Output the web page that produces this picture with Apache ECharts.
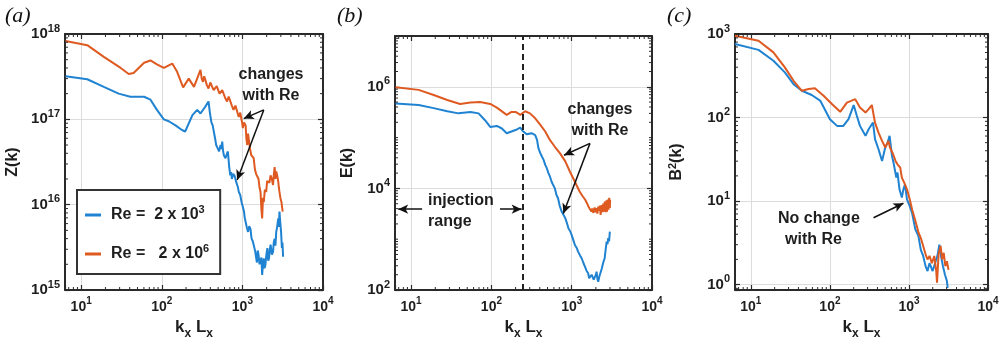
<!DOCTYPE html>
<html><head><meta charset="utf-8">
<script src="https://cdn.jsdelivr.net/npm/echarts@6/dist/echarts.min.js"></script>
<style>html,body{margin:0;padding:0;background:#fff}#c{width:1007px;height:348px}</style>
</head><body><div id="c"></div>
<script>
// ---------- Panel (a): Z(k) ----------
const aLoX = [6.4, 11.9, 19.1, 29.2, 40.7, 60.3, 72.4, 87.1, 106, 122, 148, 178, 195, 240, 275, 302, 347, 380, 395, 412, 428, 442, 458, 473, 493, 513, 537, 550, 562, 575, 589, 603, 617, 640, 661, 685, 708, 725, 741, 770, 804, 830, 861, 880, 902, 940, 977, 1010, 1047, 1070, 1096, 1135, 1175, 1215, 1259, 1300, 1349, 1400, 1445, 1480, 1514, 1550, 1585, 1630, 1679, 1720, 1758, 1800, 1841, 1880, 1928, 1985, 2042, 2090, 2138, 2190, 2239, 2320, 2399, 2450, 2512, 2570, 2630, 2700, 2786, 2830, 2884, 2950, 3020, 3090, 3140, 3199];
const aLoY = [3.2e17, 2.95e17, 2.4e17, 2.0e17, 1.84e17, 1.84e17, 1.7e17, 1.29e17, 1.0e17, 9.5e16, 8.5e16, 7.5e16, 7.2e16, 1.12e17, 1.29e17, 1.17e17, 1.41e17, 1.62e17, 1.2e17, 9.3e16, 8.5e16, 7.2e16, 6.0e16, 5.0e16, 4.6e16, 4.2e16, 5.0e16, 4.5e16, 5.5e16, 4.3e16, 3.8e16, 4.0e16, 3.5e16, 3.9e16, 4.2e16, 2.8e16, 2.2e16, 2.4e16, 2.0e16, 2.3e16, 2.15e16, 1.9e16, 2.0e16, 1.6e16, 1.41e16, 1.3e16, 1.07e16, 9.5e15, 8.3e15, 7.0e15, 6.3e15, 5.4e15, 4.8e15, 5.6e15, 5.2e15, 4.0e15, 3.7e15, 3.2e15, 2.8e15, 2.4e15, 2.1e15, 2.9e15, 2.6e15, 2.0e15, 1.95e15, 2.4e15, 1.5e15, 2.0e15, 2.35e15, 1.8e15, 1.95e15, 2.6e15, 3.1e15, 2.2e15, 2.35e15, 3.0e15, 3.4e15, 2.6e15, 2.8e15, 3.6e15, 4.0e15, 3.3e15, 4.8e15, 5.5e15, 6.9e15, 5.5e15, 8.3e15, 6.2e15, 4.8e15, 3.1e15, 3.6e15, 2.45e15];
const aHiX = [6.4, 11.9, 19.1, 30.9, 38.9, 44.7, 60.3, 72.4, 87.1, 106, 135, 155, 184, 216, 251, 302, 313, 324, 336, 347, 363, 380, 400, 422, 440, 457, 480, 501, 520, 537, 562, 589, 617, 646, 676, 708, 740, 776, 820, 861, 880, 902, 940, 977, 995, 1012, 1050, 1096, 1120, 1148, 1175, 1202, 1245, 1288, 1330, 1380, 1430, 1479, 1530, 1585, 1630, 1679, 1720, 1758, 1800, 1841, 1900, 1972, 2030, 2089, 2160, 2239, 2320, 2399, 2450, 2512, 2570, 2630, 2700, 2786, 2830, 2884, 2960, 3055, 3100, 3162];
const aHiY = [8.3e17, 7.4e17, 5.4e17, 4.0e17, 3.4e17, 3.5e17, 4.6e17, 4.9e17, 4.4e17, 4.0e17, 4.5e17, 3.6e17, 2.37e17, 3.0e17, 2.4e17, 3.8e17, 3.0e17, 2.75e17, 3.2e17, 2.9e17, 2.5e17, 2.3e17, 2.7e17, 2.6e17, 2.2e17, 2.1e17, 2.45e17, 2.35e17, 2.0e17, 1.93e17, 2.2e17, 2.1e17, 1.75e17, 1.62e17, 1.85e17, 1.78e17, 1.45e17, 1.29e17, 1.45e17, 1.41e17, 1.15e17, 1.07e17, 1.2e17, 1.17e17, 9.0e16, 7.9e16, 9.2e16, 8.5e16, 6.0e16, 5.0e16, 6.8e16, 6.6e16, 4.5e16, 3.8e16, 4.0e16, 3.5e16, 2.6e16, 2.3e16, 2.4e16, 2.0e16, 1.6e16, 1.41e16, 9.0e15, 6.9e15, 1.2e16, 1.07e16, 1.5e16, 1.41e16, 1.9e16, 2.0e16, 1.8e16, 2.2e16, 2.0e16, 1.7e16, 2.2e16, 2.75e16, 2.0e16, 2.45e16, 2.2e16, 1.86e16, 1.6e16, 1.41e16, 1.2e16, 1.07e16, 9.5e15, 8.3e15];

// ---------- Panel (b): E(k) ----------
const bLoX = [6.4, 12.4, 19.1, 28.2, 38.9, 55, 69.2, 83.2, 96.6, 117, 135, 155, 178, 200, 229, 245, 275, 316, 351, 370, 385, 405, 427, 448, 468, 490, 513, 537, 562, 590, 617, 645, 676, 710, 750, 790, 832, 870, 912, 955, 1000, 1050, 1096, 1150, 1202, 1270, 1334, 1400, 1462, 1530, 1603, 1650, 1718, 1770, 1820, 1880, 1950, 2000, 2042, 2090, 2138, 2210, 2291, 2360, 2427, 2500, 2570, 2640, 2723, 2790, 2851, 2920, 2985];
const bLoY = [4.7e5, 4.4e5, 3.8e5, 3.3e5, 3.0e5, 3.2e5, 3.0e5, 2.2e5, 1.62e5, 1.7e5, 1.51e5, 1.22e5, 1.32e5, 1.41e5, 1.57e5, 1.35e5, 1.16e5, 1.22e5, 1.12e5, 9.0e4, 6.2e4, 5.0e4, 4.2e4, 3.6e4, 2.9e4, 2.5e4, 2.0e4, 1.7e4, 1.35e4, 1.15e4, 1.0e4, 7.5e3, 6.4e3, 4.5e3, 3.5e3, 3.2e3, 2.6e3, 2.1e3, 1.62e3, 1.45e3, 1.2e3, 950, 770, 680, 570, 480, 417, 340, 288, 240, 214, 170, 158, 200, 214, 160, 158, 200, 229, 165, 145, 185, 197, 260, 309, 370, 417, 600, 891, 800, 1047, 900, 1413];
const bHiX = [6.4, 12.4, 19.1, 28.2, 40.7, 55, 72.4, 96.6, 117, 155, 178, 200, 229, 263, 302, 351, 407, 468, 537, 617, 716, 832, 955, 1096, 1259, 1370, 1479, 1560, 1640, 1698, 1760, 1800, 1862, 1930, 1995, 2040, 2089, 2140, 2188, 2240, 2291, 2360, 2427, 2470, 2512, 2580, 2661, 2710, 2754, 2820, 2884, 2930, 2985, 3010];
const bHiY = [9.8e5, 8.7e5, 6.9e5, 5.5e5, 4.6e5, 4.9e5, 5.0e5, 4.6e5, 3.9e5, 2.8e5, 3.2e5, 3.2e5, 2.8e5, 3.3e5, 3.0e5, 2.4e5, 1.78e5, 1.32e5, 8.9e4, 6.6e4, 4.9e4, 3.4e4, 2.1e4, 1.35e4, 8.6e3, 7.0e3, 5.9e3, 5.0e3, 4.2e3, 4.4e3, 3.5e3, 4.0e3, 3.3e3, 4.2e3, 3.4e3, 4.1e3, 3.2e3, 4.4e3, 3.6e3, 4.6e3, 3.0e3, 4.7e3, 3.4e3, 5.0e3, 3.5e3, 5.5e3, 3.4e3, 5.8e3, 3.5e3, 6.0e3, 3.8e3, 6.5e3, 4.1e3, 6.0e3];
const bInjection = 245;

// ---------- Panel (c): B^2(k) ----------
const cLoX = [6.3, 12.5, 19.3, 26.9, 34.7, 44.2, 58.9, 75.9, 100, 123, 148, 172, 200, 219, 240, 282, 309, 351, 372, 412, 457, 501, 537, 569, 610, 638, 692, 716, 759, 813, 851, 891, 944, 1023, 1096, 1202, 1318, 1413, 1514, 1622, 1718, 1820, 1995, 2138, 2291, 2427, 2541, 2692, 2851, 3020, 3090];
const cLoY = [759, 646, 479, 347, 251, 209, 186, 158, 95.5, 79.4, 79.4, 95.5, 141, 105, 79.4, 60.3, 72.4, 87.1, 55, 41.7, 30.2, 43.7, 50.1, 60.3, 34.7, 28.8, 19.1, 21.9, 13.8, 11.0, 13.8, 15.8, 10.5, 8.7, 7.2, 4.6, 3.8, 2.6, 2.2, 1.66, 1.45, 1.8, 1.45, 1.8, 2.2, 3.0, 2.2, 1.66, 1.32, 1.1, 0.91];
const cHiX = [6.3, 12.5, 19.3, 26.9, 34.7, 44.2, 53.7, 64.6, 83.2, 106, 135, 164, 209, 240, 282, 309, 339, 372, 412, 457, 501, 550, 575, 631, 676, 716, 776, 813, 871, 944, 1023, 1096, 1175, 1259, 1318, 1413, 1514, 1622, 1718, 1820, 1950, 2089, 2213, 2265, 2371, 2512, 2630, 2754, 2884, 3020, 3162];
const cHiY = [955, 832, 603, 398, 275, 209, 219, 224, 182, 145, 117, 151, 166, 132, 115, 126, 141, 87, 66, 52.5, 43.7, 52.5, 43.7, 36.3, 30.2, 27.5, 25.1, 19.1, 16.6, 13.8, 10.5, 7.9, 6.3, 5.0, 4.2, 3.6, 2.9, 2.3, 2.0, 2.2, 1.8, 2.2, 1.45, 1.05, 2.3, 2.9, 2.0, 2.4, 1.66, 1.9, 1.5];

// ---------- tick label exponents ----------
const xTickExp = [1, 2, 3, 4];
const aYTickExp = [15, 16, 17, 18];
const bYTickExp = [2, 4, 6];
const cYTickExp = [0, 1, 2, 3];

const BLUE = '#1f83d2';
const ORANGE = '#de5a21';
const INK = '#1e1e1e';
const AX = '#2a2a2a';
const FONT = '"Liberation Sans", Arial, sans-serif';

function mkRich(base, sup) {
  return {
    b: {fontSize: base, fontWeight: 'bold', color: INK, lineHeight: 22, fontFamily: FONT},
    s: {fontSize: sup, fontWeight: 'bold', color: INK, lineHeight: 14, verticalAlign: 'top', fontFamily: FONT}
  };
}
function powLabel(exps) {
  return function (v) {
    const l = Math.log10(v), e = Math.round(l);
    if (Math.abs(l - e) > 1e-3 || exps.indexOf(e) < 0) return '';
    return '{b|10}{s|' + e + '}';
  };
}
const lineAx = {show: true, onZero: false, lineStyle: {color: AX, width: 2}};
const tickAx = {show: true, inside: true, length: 5, lineStyle: {color: AX, width: 1.2}};
const splitAx = {show: true, lineStyle: {color: '#dcdcdc', width: 1}};

const grids = [
  {left: 65, top: 34, width: 258, height: 256},
  {left: 395, top: 36, width: 257, height: 254},
  {left: 735, top: 34, width: 253, height: 256}
];
const xRange = [6.3, 1e4];
const yRanges = [[1e15, 1e18, 10], [100, 1e7, 100], [0.86, 1000, 10]];
const yExps = [aYTickExp, bYTickExp, cYTickExp];
const yNames = ['Z(k)', 'E(k)', '{t|B}{s|2}{t|(k)}'];
const yGaps = [44, 39, 48];

const xAxes = [], yAxes = [];
for (let i = 0; i < 3; i++) {
  xAxes.push({
    type: 'log', gridIndex: i, min: xRange[0], max: xRange[1], position: 'bottom',
    axisLine: lineAx, axisTick: tickAx, splitLine: splitAx,
    axisLabel: {show: true, margin: 6, interval: 0, showMinLabel: true, showMaxLabel: true, hideOverlap: false, formatter: powLabel(xTickExp), rich: mkRich(14, 10)},
    name: '{t|k}{u|x}{t| L}{u|x}', nameLocation: 'middle', nameGap: 24,
    nameTextStyle: {rich: {
      t: {fontSize: 17, fontWeight: 'bold', color: INK, lineHeight: 24, fontFamily: FONT},
      u: {fontSize: 12, fontWeight: 'bold', color: INK, lineHeight: 14, verticalAlign: 'bottom', fontFamily: FONT}
    }}
  });
  yAxes.push({
    type: 'log', gridIndex: i, min: yRanges[i][0], max: yRanges[i][1], logBase: yRanges[i][2], position: 'left',
    axisLine: lineAx, axisTick: tickAx, splitLine: splitAx,
    axisLabel: {show: true, margin: 5, interval: 0, showMinLabel: true, showMaxLabel: true, hideOverlap: false, formatter: powLabel(yExps[i]), rich: mkRich(15, 11)},
    name: yNames[i], nameLocation: 'middle', nameGap: yGaps[i], nameRotate: 90,
    nameTextStyle: {fontSize: 16, fontWeight: 'bold', color: INK, fontFamily: FONT, rich: {
      t: {fontSize: 16, fontWeight: 'bold', color: INK, lineHeight: 20, fontFamily: FONT},
      s: {fontSize: 11, fontWeight: 'bold', color: INK, lineHeight: 12, verticalAlign: 'top', fontFamily: FONT}
    }}
  });
}
for (let i = 0; i < 3; i++) {
  xAxes.push({type: 'log', gridIndex: i, min: xRange[0], max: xRange[1], position: 'top',
    axisLine: lineAx, axisTick: tickAx, splitLine: {show: false}, axisLabel: {show: false}});
  yAxes.push({type: 'log', gridIndex: i, min: yRanges[i][0], max: yRanges[i][1], logBase: yRanges[i][2], position: 'right',
    axisLine: lineAx, axisTick: tickAx, splitLine: {show: false}, axisLabel: {show: false}});
}

// minor (log) ticks on the four sides of each box, placed through the axes' own scales
function minorVals(lo, hi) {
  const out = [];
  for (let e = -1; e <= 19; e++) {
    for (let m = 1; m <= 9; m++) {
      const v = m * Math.pow(10, e);
      if (v > lo * 1.0001 && v < hi * 0.9999) out.push(v);
    }
  }
  return out;
}
function minorSeries(i) {
  const xr = xRange, yr = yRanges[i];
  const xv = minorVals(xr[0], xr[1]).filter(v => Math.abs(Math.log10(v) - Math.round(Math.log10(v))) > 1e-6);
  let yv = minorVals(yr[0], yr[1]);
  if (yr[2] === 10) yv = yv.filter(v => Math.abs(Math.log10(v) - Math.round(Math.log10(v))) > 1e-6);
  else yv = yv.filter(v => { const l = Math.log10(v); const r = Math.round(l); return Math.abs(l - r) > 1e-6 || r % 2 !== 0; });
  return {
    type: 'custom', xAxisIndex: i, yAxisIndex: i, silent: true, animation: false, clip: false, z: 5,
    data: [[xr[0], yr[0]]],
    renderItem: function (params, api) {
      const p0 = api.coord([xr[0], yr[0]]), p1 = api.coord([xr[1], yr[1]]);
      const L = 3, ch = [];
      const st = {stroke: AX, lineWidth: 1};
      xv.forEach(v => {
        const x = api.coord([v, yr[0]])[0];
        ch.push({type: 'line', shape: {x1: x, y1: p0[1], x2: x, y2: p0[1] - L}, style: st});
        ch.push({type: 'line', shape: {x1: x, y1: p1[1], x2: x, y2: p1[1] + L}, style: st});
      });
      yv.forEach(v => {
        const y = api.coord([xr[0], v])[1];
        ch.push({type: 'line', shape: {x1: p0[0], y1: y, x2: p0[0] + L, y2: y}, style: st});
        ch.push({type: 'line', shape: {x1: p1[0], y1: y, x2: p1[0] - L, y2: y}, style: st});
      });
      return {type: 'group', children: ch};
    }
  };
}

const arrowML = (pairs) => ({
  silent: true, animation: false, symbol: ['none', 'arrow'], symbolSize: [7, 10],
  lineStyle: {color: '#111', width: 1.5, type: 'solid'}, label: {show: false},
  emphasis: {disabled: true},
  data: pairs.map(p => [{coord: p[0]}, {coord: p[1]}])
});

function mk(name, xs, ys, idx, color, extra) {
  return Object.assign({
    name: name, type: 'line', xAxisIndex: idx, yAxisIndex: idx,
    data: xs.map((x, i) => [x, ys[i]]),
    showSymbol: false, symbol: 'none', animation: false, z: 3,
    lineStyle: {width: 2, color: color}, itemStyle: {color: color},
    emphasis: {disabled: true}
  }, extra || {});
}

const series = [
  minorSeries(0), minorSeries(1), minorSeries(2),
  mk('lo', aLoX, aLoY, 0, BLUE, {markLine: arrowML([
    [[1841, 1.29e17], [1040, 1.02e17]],
    [[1841, 1.29e17], [861, 1.95e16]]
  ])}),
  mk('hi', aHiX, aHiY, 0, ORANGE),
  mk('lo', bLoX, bLoY, 1, BLUE, {markLine: arrowML([
    [[1687, 7.7e4], [802, 4.5e4]],
    [[1687, 7.7e4], [787, 3.2e3]],
    [[13.7, 3.9e3], [6.9, 3.9e3]],
    [[128, 3.9e3], [238, 3.9e3]]
  ])}),
  mk('hi', bHiX, bHiY, 1, ORANGE, {markLine: {
    silent: true, animation: false, symbol: ['none', 'none'], label: {show: false},
    lineStyle: {color: '#222', width: 2, type: [6, 4]},
    data: [{xAxis: bInjection}]
  }}),
  mk('lo', cLoX, cLoY, 2, BLUE, {markLine: arrowML([
    [[356, 6.3], [851, 9.4]]
  ])}),
  mk('hi', cHiX, cHiY, 2, ORANGE)
];

const annFont = 'bold 16px ' + FONT;
const panelFont = 'italic 22px "Liberation Serif", serif';
const graphic = [
  {type: 'text', x: 5, y: 16, style: {text: '(a)', font: panelFont, fill: '#111', textVerticalAlign: 'middle'}},
  {type: 'text', x: 337, y: 16, style: {text: '(b)', font: panelFont, fill: '#111', textVerticalAlign: 'middle'}},
  {type: 'text', x: 667, y: 16, style: {text: '(c)', font: panelFont, fill: '#111', textVerticalAlign: 'middle'}},
  {type: 'text', x: 271, y: 85, z: 10, style: {text: 'changes\nwith Re', font: annFont, fill: INK, textAlign: 'center', textVerticalAlign: 'middle', lineHeight: 21}},
  {type: 'text', x: 600, y: 120, z: 10, style: {text: 'changes\nwith Re', font: annFont, fill: INK, textAlign: 'center', textVerticalAlign: 'middle', lineHeight: 21}},
  {type: 'text', x: 428, y: 211, z: 10, style: {text: 'injection\nrange', font: annFont, fill: INK, textAlign: 'left', textVerticalAlign: 'middle', lineHeight: 21}},
  {type: 'text', x: 778, y: 219, z: 10, style: {text: 'No change', font: annFont, fill: INK, textAlign: 'left', textVerticalAlign: 'middle'}},
  {type: 'text', x: 785, y: 240, z: 10, style: {text: 'with Re', font: annFont, fill: INK, textAlign: 'left', textVerticalAlign: 'middle'}}
];

const chart = echarts.init(document.getElementById('c'), null, {renderer: 'canvas'});
chart.setOption({
  backgroundColor: '#fff',
  animation: false,
  grid: grids,
  xAxis: xAxes,
  yAxis: yAxes,
  legend: {
    left: 77, top: 190, orient: 'vertical', selectedMode: false,
    backgroundColor: '#fff', borderColor: '#333', borderWidth: 2,
    padding: [14, 11, 12, 8], itemGap: 20, itemWidth: 16, itemHeight: 3, icon: 'rect',
    data: ['lo', 'hi'],
    formatter: n => n === 'lo' ? '{t|Re =  2 x 10}{s|3}' : '{t|Re =   2 x 10}{s|6}',
    textStyle: {rich: {
      t: {fontSize: 16, fontWeight: 'bold', color: INK, lineHeight: 22, padding: [0, 0, 0, 5], fontFamily: FONT},
      s: {fontSize: 11, fontWeight: 'bold', color: INK, lineHeight: 14, verticalAlign: 'top', fontFamily: FONT}
    }}
  },
  graphic: graphic,
  series: series
});
</script></body></html>
